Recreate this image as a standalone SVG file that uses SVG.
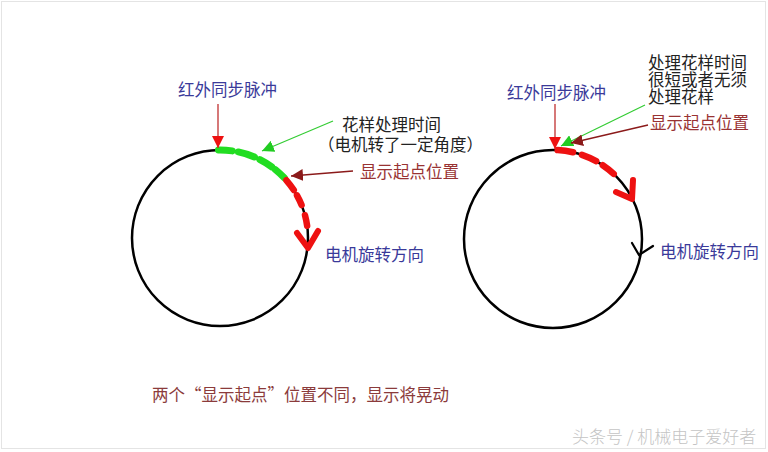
<svg xmlns="http://www.w3.org/2000/svg" width="768" height="452" viewBox="0 0 768 452">
<style>
text{font-family:"Noto Sans CJK SC","Noto Sans",sans-serif;font-size:16.5px}
.blue{fill:#3a3a9a}
.dred{fill:#993333}
.dark{fill:#222}
.circ{fill:none;stroke:#000;stroke-width:2.5}
.g{fill:none;stroke:#22dd22;stroke-width:7;stroke-linecap:round}
.r{fill:none;stroke:#ee1111;stroke-width:6.5;stroke-linecap:round}
.rv{fill:none;stroke:#ee1111;stroke-width:6;stroke-linecap:round;stroke-linejoin:round}
</style>
<defs>
<marker id="mr" markerWidth="14" markerHeight="12" refX="12" refY="6" orient="auto" markerUnits="userSpaceOnUse"><path d="M0,0 L12,6 L0,12 Z" fill="#ee1111"/></marker>
<marker id="mg" markerWidth="14" markerHeight="12" refX="12" refY="6" orient="auto" markerUnits="userSpaceOnUse"><path d="M0,0 L12,6 L0,12 Z" fill="#22cc22"/></marker>
<marker id="md" markerWidth="14" markerHeight="12" refX="12" refY="6" orient="auto" markerUnits="userSpaceOnUse"><path d="M0,0 L12,6 L0,12 Z" fill="#8b1a1a"/></marker>
</defs>
<rect x="0" y="0" width="768" height="452" fill="#fff"/>
<rect x="1.5" y="1.5" width="764" height="447" fill="none" stroke="#e4e4e4" stroke-width="1"/>

<g id="left-circle">
<circle class="circ" cx="220" cy="238" r="88"/>
<path class="g" d="M218.46,150.01 A88,88 0 0 1 232.25,150.85"/>
<path class="g" d="M238.30,151.93 A88,88 0 0 1 254.38,156.99"/>
<path class="g" d="M259.95,159.59 A88,88 0 0 1 271.72,166.81"/>
<path class="g" d="M275.38,169.61 A88,88 0 0 1 284.36,177.98"/>
<path class="r" d="M286.41,180.26 A88,88 0 0 1 293.80,190.08"/>
<path class="r" d="M296.97,195.34 A88,88 0 0 1 301.59,205.03"/>
<path class="r" d="M305.00,215.23 A88,88 0 0 1 307.14,225.75"/>
<path class="rv" d="M297,233 L308,248 L318,231"/>
</g>

<g id="right-circle">
<circle class="circ" cx="553" cy="239" r="89"/>
<path class="r" d="M557.66,150.12 A89,89 0 0 1 573.02,152.28"/>
<path class="r" d="M581.98,154.85 A89,89 0 0 1 596.15,161.16"/>
<path class="r" d="M602.77,165.22 A89,89 0 0 1 613.70,173.91"/>
<path class="rv" d="M616,192 L632,199 L633,180"/>
<path d="M632,243 L639,255 L653,246" fill="none" stroke="#000" stroke-width="2.2" stroke-linecap="round"/>
</g>

<g id="connectors">
<line x1="218" y1="104" x2="218" y2="148" stroke="#c03030" stroke-width="1.3" marker-end="url(#mr)"/>
<line x1="333" y1="121" x2="262" y2="151" stroke="#33cc33" stroke-width="1.2" marker-end="url(#mg)"/>
<line x1="353" y1="171" x2="291" y2="176" stroke="#8b1a1a" stroke-width="1.3" marker-end="url(#md)"/>
<line x1="555" y1="104" x2="555" y2="149" stroke="#c03030" stroke-width="1.3" marker-end="url(#mr)"/>
<line x1="645" y1="105" x2="561" y2="146" stroke="#33cc33" stroke-width="1.2" marker-end="url(#mg)"/>
<line x1="648" y1="125" x2="571" y2="143" stroke="#8b1a1a" stroke-width="1.3" marker-end="url(#md)"/>
</g>

<g id="labels-left">
<text class="blue" x="178" y="96">红外同步脉冲</text>
<text class="dark" x="342" y="131">花样处理时间</text>
<text class="dark" x="318" y="151">（电机转了一定角度）</text>
<text class="dred" x="360" y="178">显示起点位置</text>
<text class="blue" x="325" y="261">电机旋转方向</text>
</g>

<g id="labels-right">
<text class="dark" x="648" y="69">处理花样时间</text>
<text class="dark" x="648" y="86">很短或者无须</text>
<text class="dark" x="648" y="103">处理花样</text>
<text class="blue" x="507" y="99">红外同步脉冲</text>
<text class="dred" x="650" y="129">显示起点位置</text>
<text class="blue" x="660" y="258">电机旋转方向</text>
</g>

<g id="caption">
<text x="152" y="401" fill="#8b3b3b">两个“显示起点”位置不同，显示将晃动</text>
</g>
<g id="watermark">
<text x="572" y="443" fill="#c4c4c4" style="font-size:17px;font-weight:300">头条号 / 机械电子爱好者</text>
</g>
</svg>
